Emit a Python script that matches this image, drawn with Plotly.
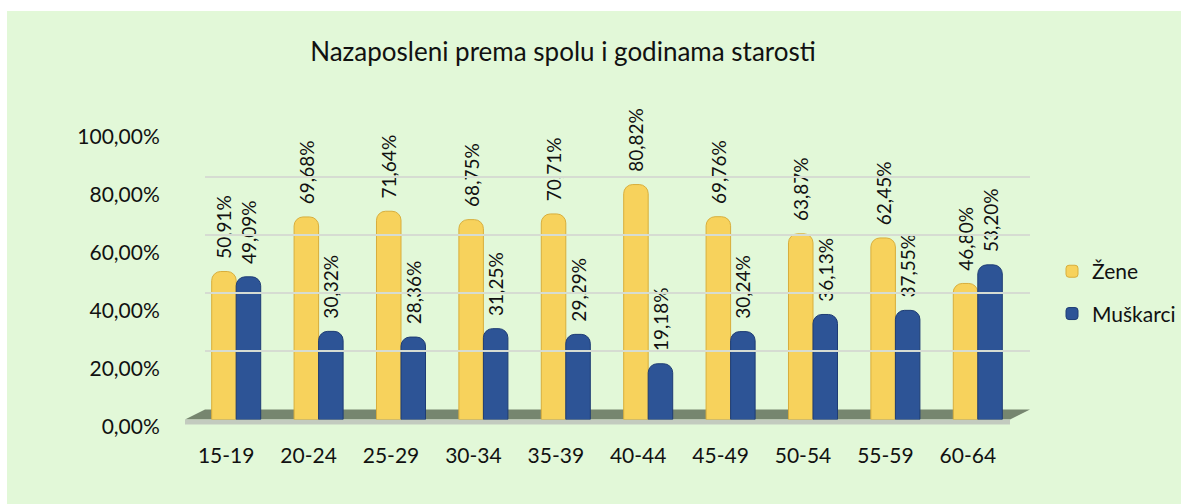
import plotly.graph_objects as go

categories = ["15-19", "20-24", "25-29", "30-34", "35-39", "40-44", "45-49", "50-54", "55-59", "60-64"]
zene = [50.91, 69.68, 71.64, 68.75, 70.71, 80.82, 69.76, 63.87, 62.45, 46.80]
muskarci = [49.09, 30.32, 28.36, 31.25, 29.29, 19.18, 30.24, 36.13, 37.55, 53.20]
y_ticks = [0, 20, 40, 60, 80, 100]
y_tick_labels = ["0,00%", "20,00%", "40,00%", "60,00%", "80,00%", "100,00%"]
title_text = "Nazaposleni prema spolu i godinama starosti"
series_names = ["Žene", "Muškarci"]

W, H = 1181, 504
FONT = "Lato"
PAD = "\u00a0\u00a0"
GREEN = "#E2F8D8"

# observed: rendered figure occupies screen rows OFF .. OFF + SCALE*H
OFF, SCALE = 13.5, 0.948


def px(x):
    return x / W


def py(y):
    return 1 - (y - OFF) / (SCALE * H)


def fmt(v):
    return PAD + f"{v:.2f}%".replace(".", ",")


fig = go.Figure()

fig.add_trace(go.Bar(
    x=categories, y=zene, name=series_names[0], legendgroup="a",
    marker=dict(color="#F7D25C", line=dict(color="#D8AE3C", width=1), cornerradius=9),
    text=[fmt(v) for v in zene], textposition="outside", textangle=-90,
    textfont=dict(family=FONT, size=19, color="#111111"),
    cliponaxis=False, constraintext="none", xaxis="x", yaxis="y",
))
fig.add_trace(go.Bar(
    x=categories, y=muskarci, name=series_names[1], legendgroup="b",
    marker=dict(color="#2D5496", line=dict(color="#1E3C74", width=1), cornerradius=9),
    text=[fmt(v) for v in muskarci], textposition="outside", textangle=-90,
    textfont=dict(family=FONT, size=19, color="#111111"),
    cliponaxis=False, constraintext="none", xaxis="x", yaxis="y",
))

fig.add_trace(go.Scatter(x=[0], y=[0], mode="markers", marker=dict(opacity=0),
                         showlegend=False, hoverinfo="skip", xaxis="x2", yaxis="y2"))
fig.add_trace(go.Scatter(x=categories, y=[0] * len(categories), mode="markers",
                         marker=dict(opacity=0), showlegend=False, hoverinfo="skip",
                         xaxis="x3", yaxis="y3"))

hidden = dict(showgrid=False, zeroline=False, showticklabels=False, showline=False, ticks="")

fig.update_layout(
    width=W, height=H,
    margin=dict(l=0, r=0, t=0, b=0),
    paper_bgcolor="rgba(0,0,0,0)",
    plot_bgcolor="rgba(0,0,0,0)",
    separators=",.",
    font=dict(family=FONT, size=21, color="#111111"),
    title=dict(text=title_text, x=px(563), xanchor="center", y=py(51), yanchor="middle",
               xref="paper", yref="paper",
               font=dict(family=FONT, size=26, color="#111111")),
    barmode="group", bargap=0.405, bargroupgap=0.0,
    xaxis=dict(domain=[px(195), px(1019)], anchor="y", type="category",
               categoryarray=categories, range=[-0.5, 9.5], **hidden),
    yaxis=dict(domain=[py(418), py(128)], anchor="x", range=[0, 100], **hidden),
    xaxis2=dict(domain=[px(205), px(1030)], anchor="y2", range=[0, 1], **hidden),
    yaxis2=dict(domain=[py(408), py(118)], anchor="x2", range=[0, 100],
                showgrid=True, gridcolor="#D6DCD2", gridwidth=2, tickvals=y_ticks,
                zeroline=False, showticklabels=False, showline=False, ticks=""),
    xaxis3=dict(domain=[px(185), px(1009)], anchor="y3", type="category",
                categoryarray=categories, range=[-0.5, 9.5], showgrid=False,
                zeroline=False, showline=False, ticks="outside", ticklen=10,
                tickcolor="rgba(0,0,0,0)", tickfont=dict(family=FONT, size=21)),
    yaxis3=dict(domain=[py(425), py(136)], anchor="x3", range=[0, 100],
                tickvals=y_ticks, ticktext=y_tick_labels,
                showgrid=False, zeroline=False, showline=False, ticks="outside",
                ticklen=20, tickcolor="rgba(0,0,0,0)", tickfont=dict(family=FONT, size=21)),
    legend=dict(x=px(1052), y=py(250), xanchor="left", yanchor="top",
                bgcolor="rgba(0,0,0,0)", tracegroupgap=12,
                font=dict(family=FONT, size=21, color="#111111")),
    shapes=[
        dict(type="path", xref="paper", yref="paper",
             path=f"M {px(185)},{py(418)} L {px(1010)},{py(418)} L {px(1030)},{py(408)} "
                  f"L {px(205)},{py(408)} Z",
             fillcolor="#76866F", line=dict(width=0), layer="below"),
        dict(type="path", xref="paper", yref="paper",
             path=f"M {px(185)},{py(418)} L {px(1010)},{py(418)} L {px(1010)},{py(423)} "
                  f"L {px(185)},{py(423)} Z",
             fillcolor="#C3CBBF", line=dict(width=0), layer="below"),
    ],
)

page_fix = (
    "var h=document.documentElement,b=document.body;"
    "h.style.background='linear-gradient(to bottom,#ffffff 11px,rgba(255,255,255,0) 11px),"
    "linear-gradient(to right,#ffffff 7px," + GREEN + " 7px)';"
    "h.style.minHeight='100%';"
    "b.style.margin='0';b.style.background='transparent';"
)

fig.write_html(
    "out.html",
    config={"displayModeBar": False},
    post_script=page_fix,
)
